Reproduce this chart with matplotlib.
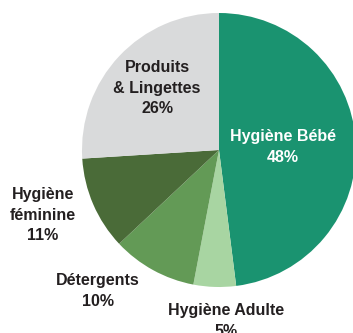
import matplotlib.pyplot as plt

# Segment shares, clockwise from 12 o'clock
labels = ['Hygiène Bébé', 'Hygiène Adulte', 'Détergents', 'Hygiène\nféminine', 'Produits\n& Lingettes']
shares = [48, 5, 10, 11, 26]
colors = ['#1a9370', '#a8d5a2', '#639a56', '#4a6b38', '#d9dadb']

# label centres in pixels (x from left, y from top) and text colours
label_xy = [(283, 147), (226, 321), (98, 291), (43, 215), (157, 88)]
label_col = ['white', '#231f20', '#231f20', '#231f20', '#231f20']

W, H = 353, 333
fig = plt.figure(figsize=(W / 100, H / 100), dpi=100)
ax = fig.add_axes([0, 0, 1, 1])

ax.pie(shares, colors=colors, startangle=90, counterclock=False,
       center=(219, H - 150), radius=137, wedgeprops=dict(linewidth=0))

# pie() resets the limits, so fix the pixel frame afterwards
ax.set_xlim(0, W)
ax.set_ylim(0, H)
ax.set_aspect('equal')
ax.axis('off')

for lab, v, (x, y), c in zip(labels, shares, label_xy, label_col):
    ax.text(x, H - y, f'{lab}\n{v}%', ha='center', va='center', multialignment='center',
            color=c, fontsize=11.5, fontweight='bold', family='Liberation Sans', linespacing=1.45)

fig.savefig('out.png', dpi=100)
